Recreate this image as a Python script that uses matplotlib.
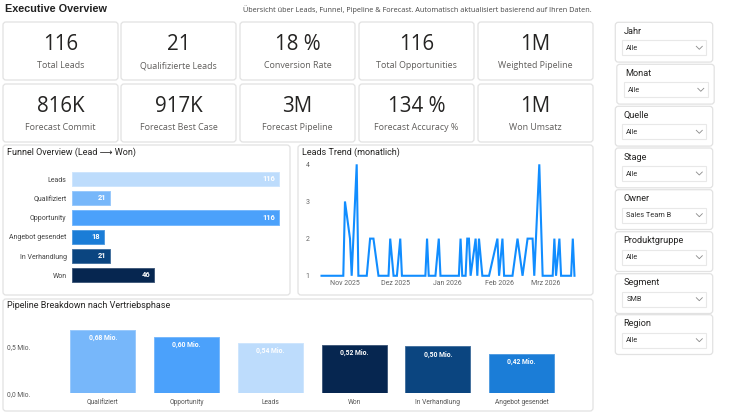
import matplotlib
matplotlib.use("Agg")
import matplotlib.pyplot as plt
from matplotlib.patches import FancyBboxPatch
import pandas as pd

# ---------------- data ----------------
kpi_values = ["116", "21", "18 %", "116", "1M", "816K", "917K", "3M", "134 %", "1M"]
kpi_labels = ["Total Leads", "Qualifizierte Leads", "Conversion Rate", "Total Opportunities",
              "Weighted Pipeline", "Forecast Commit", "Forecast Best Case", "Forecast Pipeline",
              "Forecast Accuracy %", "Won Umsatz"]

funnel_stages = ["Leads", "Qualifiziert", "Opportunity", "Angebot gesendet", "In Verhandlung", "Won"]
funnel_counts = [116, 21, 116, 18, 21, 46]

pipe_stages = ["Qualifiziert", "Opportunity", "Leads", "Won", "In Verhandlung", "Angebot gesendet"]
pipe_values = [0.68, 0.60, 0.54, 0.52, 0.50, 0.42]   # Mio.

trend_dates = ["2025-10-18", "2025-10-31", "2025-11-01", "2025-11-04", "2025-11-05", "2025-11-08",
               "2025-11-09", "2025-11-14", "2025-11-16", "2025-11-18", "2025-11-21", "2025-11-27",
               "2025-11-28", "2025-11-30", "2025-12-02", "2025-12-04", "2025-12-05", "2025-12-19",
               "2025-12-20", "2025-12-21", "2025-12-25", "2025-12-27", "2025-12-28", "2026-01-08",
               "2026-01-09", "2026-01-10", "2026-01-12", "2026-01-13", "2026-01-14", "2026-01-15",
               "2026-01-18", "2026-01-19", "2026-01-20", "2026-01-22", "2026-01-26", "2026-01-31",
               "2026-02-01", "2026-02-03", "2026-02-04", "2026-02-09", "2026-02-12", "2026-02-15",
               "2026-02-18", "2026-02-21", "2026-02-22", "2026-02-25", "2026-02-27", "2026-03-05",
               "2026-03-06", "2026-03-07", "2026-03-09", "2026-03-10", "2026-03-16", "2026-03-17",
               "2026-03-18"]
trend_values = [1, 1, 3, 2, 1, 4, 1, 1, 2, 2, 1, 1, 2, 1, 1, 2, 1, 1, 2, 1, 1, 2, 1, 1, 2, 1, 1,
                2, 2, 1, 2, 1, 2, 1, 1, 2, 1, 2, 1, 1, 2, 1, 2, 2, 1, 4, 1, 1, 2, 1, 2, 1, 1, 2, 1]
trend_ticks = ["2025-11-01", "2025-12-01", "2026-01-01", "2026-02-01", "2026-03-01"]
trend_tick_labels = ["Nov 2025", "Dez 2025", "Jan 2026", "Feb 2026", "Mrz 2026"]
trend_yticks = [1, 2, 3, 4]

slicer_titles = ["Jahr", "Monat", "Quelle", "Stage", "Owner", "Produktgruppe", "Segment", "Region"]
slicer_values = ["Alle", "Alle", "Alle", "Alle", "Sales Team B", "Alle", "SMB", "Alle"]

stage_colors = {
    "Leads": "#BDDCFC",
    "Qualifiziert": "#77B7FA",
    "Opportunity": "#4BA1FB",
    "Angebot gesendet": "#1B7DD7",
    "In Verhandlung": "#0B4580",
    "Won": "#062650",
}

title = "Executive Overview"
subtitle = ("Übersicht über Leads, Funnel, Pipeline & Forecast. "
            "Automatisch aktualisiert basierend auf Ihren Daten.")

# ---------------- layout helpers ----------------
W, H = 732, 413
SEG = ["Open Sans", "DejaVu Sans"]
DIN = ["Roboto", "DejaVu Sans"]
plt.rcParams["font.family"] = SEG

fig = plt.figure(figsize=(W / 100, H / 100), dpi=100)
fig.patch.set_facecolor("white")

bg = fig.add_axes([0, 0, 1, 1], zorder=0)
bg.set_xlim(0, W)
bg.set_ylim(H, 0)
bg.axis("off")


def ax_px(l, t, r, b):
    a = fig.add_axes([l / W, 1 - b / H, (r - l) / W, (b - t) / H], zorder=2)
    a.patch.set_alpha(0)
    return a


def panel(l, t, r, b, ec="#e2e2e2"):
    bg.add_patch(FancyBboxPatch((l, t), r - l, b - t,
                                boxstyle="round,pad=0,rounding_size=3",
                                fc="white", ec=ec, lw=0.9, zorder=1))


def lighten(hexc, f):
    c = matplotlib.colors.to_rgb(hexc)
    return tuple(1 - (1 - x) * (1 - f) for x in c)


# ---------------- header ----------------
bg.text(5, 8.5, title, fontsize=7.8, fontweight="bold", family=["Liberation Sans", "DejaVu Sans"],
        color="#222222", va="center", ha="left")
bg.text(243, 9.5, subtitle, fontsize=5.2, color="#444444", va="center", ha="left", family=SEG)

# ---------------- KPI cards ----------------
card_x = [3, 121, 240, 359, 478]
card_w = 115
rows = [(22, 80), (84, 142)]
for i, (val, lab) in enumerate(zip(kpi_values, kpi_labels)):
    r, c = divmod(i, 5)
    l = card_x[c]
    t, b = rows[r]
    panel(l, t, l + card_w, b)
    cx = l + card_w / 2
    bg.text(cx, t + 22.5, val, fontsize=14.8, color="#252423", ha="center", va="center",
            family=["Open Sans", "DejaVu Sans"])
    bg.text(cx, t + 44, lab, fontsize=6.4, color="#605E5C", ha="center", va="center",
            family=SEG)

# ---------------- Funnel panel ----------------
panel(3, 145, 290, 295)
bg.text(7, 152.5, "Funnel Overview (Lead \u27f6 Won)", fontsize=6.5, color="#252423",
        ha="left", va="center", family=DIN)

fax = ax_px(72.3, 169.4, 282.9, 285)
ypos = list(range(len(funnel_stages)))
cols = [stage_colors[s] for s in funnel_stages]
fax.barh(ypos, funnel_counts, height=0.74, color=cols,
         edgecolor=[lighten(c, 0.25) for c in cols], linewidth=0.7)
fax.set_xlim(0, 118)
fax.set_ylim(5.5, -0.5)
fax.set_yticks(ypos)
fax.set_yticklabels(funnel_stages, fontsize=5.0, color="#444444", family=DIN)
fax.tick_params(axis="y", length=0, pad=4)
fax.set_xticks([])
for s in fax.spines.values():
    s.set_visible(False)
for y, v in zip(ypos, funnel_counts):
    fax.annotate(str(v), (v, y), xytext=(-4, 0), textcoords="offset pixels",
                 ha="right", va="center", fontsize=5.4, color="white",
                 fontweight="bold", family=DIN)

# ---------------- Leads trend panel ----------------
panel(298, 145, 593, 295)
bg.text(302, 152.5, "Leads Trend (monatlich)", fontsize=6.5, color="#252423",
        ha="left", va="center", family=DIN)

tax = ax_px(318, 158, 580, 278)
td = pd.to_datetime(trend_dates)
tax.plot(td, trend_values, color="#118DFF", lw=1.5, solid_joinstyle="miter")
base = pd.Timestamp("2025-11-01")
tax.set_xlim(base + pd.Timedelta(days=-16.1), base + pd.Timedelta(days=140.3))
tax.set_ylim(0.94, 4.17)
tax.set_xticks(pd.to_datetime(trend_ticks))
tax.set_xticklabels(trend_tick_labels, fontsize=5.0, color="#666666", family=DIN)
tax.set_yticks(trend_yticks)
tax.set_yticklabels([str(v) for v in trend_yticks], fontsize=5.0, color="#666666", family=DIN)
tax.tick_params(axis="both", length=0)
tax.tick_params(axis="x", pad=1.5)
tax.tick_params(axis="y", pad=6)
for s in tax.spines.values():
    s.set_visible(False)

# ---------------- Pipeline panel ----------------
panel(3, 299, 593, 411)
bg.text(7, 306, "Pipeline Breakdown nach Vertriebsphase", fontsize=6.5, color="#252423",
        ha="left", va="center", family=DIN)

pax = ax_px(40, 320, 590, 393.3)
xpos = list(range(len(pipe_stages)))
pcols = [stage_colors[s] for s in pipe_stages]
pax.bar(xpos, pipe_values, width=0.776, color=pcols,
        edgecolor=[lighten(c, 0.25) for c in pcols], linewidth=0.7)
pax.set_xlim(-0.75, 5.817)
pax.set_ylim(0, 0.782)
pax.set_yticks([0.0, 0.5])
pax.set_yticklabels(["0,0 Mio.", "0,5 Mio."], fontsize=4.8, color="#555555", family=DIN)
pax.set_xticks(xpos)
pax.set_xticklabels(pipe_stages, fontsize=4.8, color="#555555", family=DIN)
pax.tick_params(axis="both", length=0)
pax.tick_params(axis="x", pad=4)
for lab in pax.get_yticklabels():
    lab.set_horizontalalignment("left")
pax.tick_params(axis="y", pad=23.5)
for s in pax.spines.values():
    s.set_visible(False)
for x, v in zip(xpos, pipe_values):
    pax.annotate(f"{v:.2f}".replace(".", ",") + " Mio.", (x, v), xytext=(0, -8),
                 textcoords="offset pixels", ha="center", va="center",
                 fontsize=4.9, color="white", fontweight="bold", family=DIN)

# ---------------- Slicers ----------------
sl_top = [22.3, 64.3, 106.3, 148, 189.7, 231.7, 273.7, 314.7]
sl_h = 39.8
for i, (st, sv) in enumerate(zip(slicer_titles, slicer_values)):
    t = sl_top[i]
    dx = 1.5 if st == "Monat" else 0
    l, r = 615.3 + dx, 712.7 + dx
    panel(l, t, r, t + sl_h)
    bg.text(l + 8, t + 9, st, fontsize=6.6, color="#252423", ha="left", va="center",
            family=DIN)
    bg.add_patch(FancyBboxPatch((l + 7, t + 18), 84, 15, boxstyle="square,pad=0",
                                fc="white", ec="#e8e8e8", lw=0.8, zorder=2))
    bg.text(l + 11, t + 26, sv, fontsize=5.3, color="#333333", ha="left", va="center",
            family=DIN, zorder=3)
    cx, cy = l + 84, t + 25.5
    bg.plot([cx - 3, cx, cx + 3], [cy - 1.5, cy + 1.5, cy - 1.5], color="#8a8a8a",
            lw=0.6, zorder=3)

fig.savefig("out.png", dpi=100, facecolor="white")
